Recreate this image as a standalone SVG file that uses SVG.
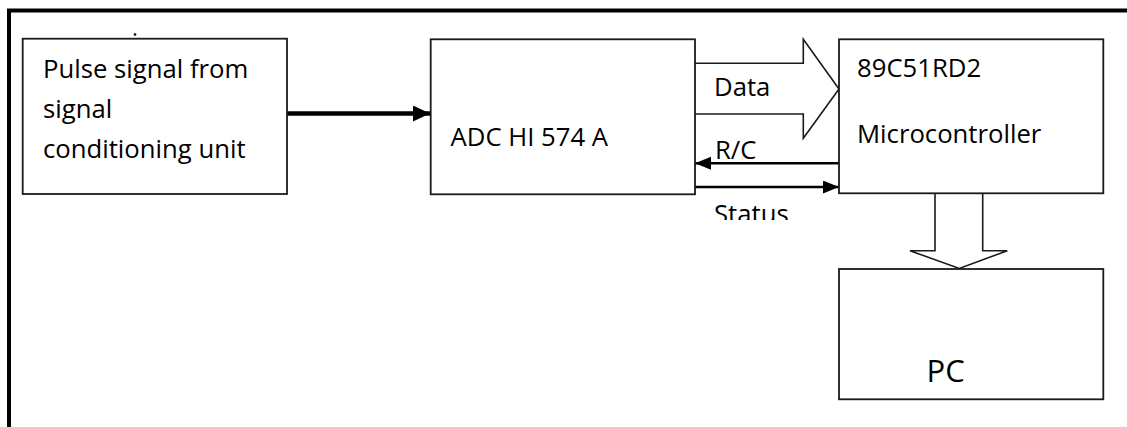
<svg xmlns="http://www.w3.org/2000/svg" width="1127" height="427" viewBox="0 0 1127 427">
  <style>
    .box { fill: #ffffff; stroke: #1a1a1a; stroke-width: 1.8; }
    .txt { font-family: "Open Sans", "Liberation Sans", sans-serif; font-size: 25.7px; fill: #000; }
    .big { font-size: 31px; }
    .wire { stroke: #000; fill: none; }
    .block { fill: #fff; stroke: #1a1a1a; stroke-width: 1.6; stroke-linejoin: miter; }
  </style>
  <defs>
    <marker id="headThick" markerUnits="userSpaceOnUse" markerWidth="18" markerHeight="18" refX="17" refY="8" orient="auto">
      <polygon points="0,0 17,8 0,16" fill="#000"/>
    </marker>
    <marker id="headThin" markerUnits="userSpaceOnUse" markerWidth="17" markerHeight="14" refX="16" refY="6.5" orient="auto">
      <polygon points="0,0 16,6.5 0,13" fill="#000"/>
    </marker>
    <clipPath id="statusClip">
      <rect x="700" y="195" width="120" height="25"/>
    </clipPath>
  </defs>
  <rect x="0" y="0" width="1127" height="427" fill="#fff"/>

  <!-- outer frame (only top and left edges visible) -->
  <path d="M9,427 V10.5 H1127" fill="none" stroke="#000" stroke-width="4"/>
  <circle cx="135" cy="34.5" r="1.3" fill="#000"/>

  <g id="connectors">
    <line class="wire" x1="287" y1="113.5" x2="430" y2="113.5" stroke-width="4.5" marker-end="url(#headThick)"/>
    <line class="wire" x1="839" y1="163.3" x2="695" y2="163.3" stroke-width="2.6" marker-end="url(#headThin)"/>
    <line class="wire" x1="695" y1="187" x2="839" y2="187" stroke-width="2.6" marker-end="url(#headThin)"/>
    <path id="dataArrow" class="block" d="M695,63.3 H803.3 V39.3 L839,89 L803.3,138.3 V114 H695"/>
    <path id="pcArrow" class="block" d="M935,193.5 V250.7 H910 L959.3,268.5 L1007.3,250.7 H982.7 V193.5"/>
  </g>

  <g id="node-source">
    <rect class="box" x="22.7" y="38.7" width="264.3" height="155.3"/>
    <text class="txt" x="43" y="78">Pulse signal from</text>
    <text class="txt" x="43" y="118">signal</text>
    <text class="txt" x="43" y="158.3">conditioning unit</text>
  </g>

  <g id="node-adc">
    <rect class="box" x="430.7" y="39.3" width="264.3" height="155"/>
    <text class="txt" x="450.5" y="146">ADC HI 574 A</text>
  </g>

  <g id="node-mcu">
    <rect class="box" x="839" y="39.3" width="264.3" height="154"/>
    <text class="txt" x="857" y="77.3">89C51RD2</text>
    <text class="txt" x="857" y="143.3">Microcontroller</text>
  </g>

  <g id="node-pc">
    <rect class="box" x="839" y="269" width="264.3" height="130.3"/>
    <text class="txt big" x="926.5" y="382.3">PC</text>
  </g>

  <g id="labels">
    <text class="txt" x="714" y="96">Data</text>
    <text class="txt" x="715" y="159.3">R/C</text>
    <text class="txt" x="714" y="222.5" clip-path="url(#statusClip)">Status</text>
  </g>
</svg>
